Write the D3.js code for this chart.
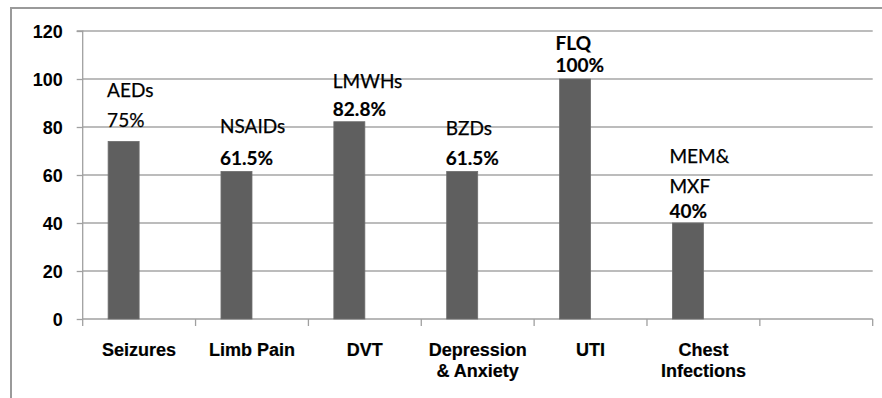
<!DOCTYPE html>
<html><head><meta charset="utf-8">
<script src="https://cdn.jsdelivr.net/npm/d3@7"></script>
<style>body{margin:0;background:#fff}svg{display:block}</style>
</head><body>
<svg id="c" width="882" height="398"></svg>
<script>
const categories = [["Seizures"],["Limb Pain"],["DVT"],["Depression","& Anxiety"],["UTI"],["Chest","Infections"],[""]];
const values = [74, 61.5, 82.2, 61.5, 100, 40, null];
const drugLabels = [["AEDs","75%"],["NSAIDs","61.5%"],["LMWHs","82.8%"],["BZDs","61.5%"],["FLQ","100%"],["MEM&","MXF","40%"],[]];
const yTicks = [0,20,40,60,80,100,120];
const series = ["s1","s2"];

const svg = d3.select("#c");
const m = {l:82.7, r:872.7, t:31, b:319};
const ids = categories.map((c,i)=>i);
const x0 = d3.scaleBand().domain(ids).range([m.l, m.r]).padding(0);
const x1 = d3.scaleBand().domain(series).range([0, x0.bandwidth()]).paddingInner(0).paddingOuter(0.82);
const y = d3.scaleLinear().domain([0,120]).range([m.b, m.t]);

// outer frame
svg.append("path").attr("d","M11,398 V8 H882").attr("fill","none").attr("stroke","#9a9a9a").attr("stroke-width",2);

// gridlines
svg.append("g").selectAll("line").data(yTicks.filter(d=>d>0)).join("line")
  .attr("x1",m.l).attr("x2",m.r).attr("y1",d=>y(d)).attr("y2",d=>y(d))
  .attr("stroke","#a6a6a6").attr("stroke-width",1.3);

// y axis
const ya = svg.append("g").attr("transform",`translate(${m.l},0)`)
  .call(d3.axisLeft(y).tickValues(yTicks).tickSize(6).tickPadding(14));
ya.select(".domain").attr("stroke","#a0a0a0").attr("stroke-width",1.3).attr("d",`M-6,${m.t}H0V${m.b}`);
ya.selectAll(".tick line").attr("stroke","#a0a0a0").attr("stroke-width",1.3);
ya.selectAll(".tick text").attr("font-family","Liberation Sans, Arial, sans-serif").attr("font-weight","bold")
  .attr("font-size",18).attr("fill","#000").attr("dy","0.36em");

// x axis
const xa = svg.append("g").attr("transform",`translate(0,${m.b})`);
xa.append("line").attr("x1",m.l).attr("x2",m.r).attr("stroke","#a0a0a0").attr("stroke-width",1.3);
xa.selectAll("line.t").data(d3.range(categories.length+1)).join("line").attr("class","t")
  .attr("x1",i=>m.l+i*x0.step()).attr("x2",i=>m.l+i*x0.step()).attr("y1",0).attr("y2",7)
  .attr("stroke","#a0a0a0").attr("stroke-width",1.3);

// bars
svg.append("g").selectAll("rect").data(values.map((v,i)=>({v,i})).filter(d=>d.v!=null)).join("rect")
  .attr("x",d=>x0(d.i)+x1("s1")).attr("width",x1.bandwidth())
  .attr("y",d=>y(d.v)).attr("height",d=>y(0)-y(d.v))
  .attr("fill","#5f5f5f").attr("stroke","#6e6e6e").attr("stroke-width",0.8);

// category labels
categories.forEach((lines,i)=>{
  const cx = x0(i)+x0.bandwidth()/2;
  lines.forEach((t,j)=>{
    svg.append("text").attr("x",cx).attr("y",356+j*21).attr("text-anchor","middle")
      .attr("font-family","Liberation Sans, Arial, sans-serif").attr("font-weight","bold")
      .attr("font-size",18).attr("fill","#000").attr("stroke","#000").attr("stroke-width",0.2).text(t);
  });
});

// annotation labels (positions relative to bar)
const annoStyle = [
  [{dy:-44,b:false},{dy:-14,b:false}],
  [{dy:-38,b:false},{dy:-6,b:true}],
  [{dy:-34,b:false},{dy:-6,b:true}],
  [{dy:-36,b:false},{dy:-6,b:true}],
  [{dy:-29,b:true},{dy:-7,b:true}],
  [{dy:-60,b:false},{dy:-30,b:false},{dy:-5,b:true}],
  []
];
const annoDx = [-1,-1,-1,-1,-4,-3,0];
drugLabels.forEach((lines,i)=>{
  if(values[i]==null) return;
  const bx = x0(i)+x1("s1")+annoDx[i];
  const by = y(values[i]);
  lines.forEach((t,j)=>{
    const s = annoStyle[i][j];
    svg.append("text").attr("x",bx).attr("y",by+s.dy)
      .attr("font-family","Lato, 'Open Sans', sans-serif").attr("font-weight",s.b?"bold":"normal")
      .attr("font-size",19).attr("fill","#000").attr("stroke","#000").attr("stroke-width",s.b?0.15:0.25).text(t);
  });
});
</script>
</body></html>
